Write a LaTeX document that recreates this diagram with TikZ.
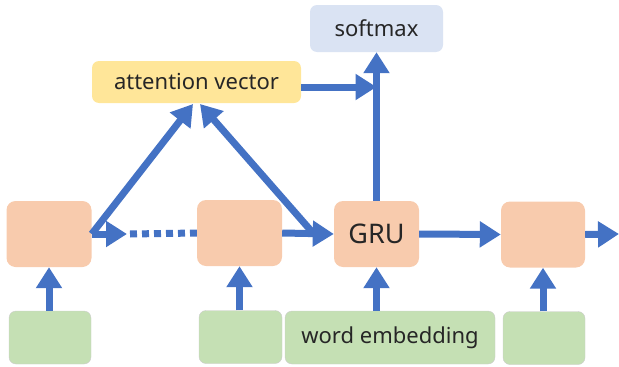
\documentclass[tikz,border=0pt]{standalone}
\usepackage{fontspec}
\setmainfont{Noto Sans}
\usepackage{tikz}
\usetikzlibrary{arrows.meta, positioning, calc}
\usepackage{xcolor}
\definecolor{cellorange}{HTML}{F8CBAD}
\definecolor{embgreen}{HTML}{C5E0B4}
\definecolor{attyellow}{HTML}{FFE699}
\definecolor{softblue}{HTML}{DAE3F3}
\definecolor{arrowblue}{HTML}{4472C4}

\begin{document}
\begin{tikzpicture}[x=1pt, y=-1pt,
    cell/.style={fill=cellorange, rounded corners=9pt, minimum width=85pt, minimum height=66pt, inner sep=0pt},
    emb/.style={fill=embgreen, draw=gray!40, line width=0.4pt, rounded corners=7pt, minimum height=53pt, inner sep=0pt},
    lbl/.style={font=\fontsize{22}{26}\selectfont, text=black!85},
    flow/.style={draw=arrowblue, line width=7pt, -{Triangle[length=21pt, width=25pt]}},
    flowplain/.style={draw=arrowblue, line width=7pt}]
  \useasboundingbox (0,0) rectangle (619,367);

  % recurrent cells
  \node[cell] (h1) at (49,234) {};
  \node[cell] (h2) at (239.5,233) {};
  \node[cell, font=\fontsize{27}{30}\selectfont, text=black!85] (gru) at (376.5,234) {GRU};
  \node[cell, minimum width=84pt] (h4) at (543,234.5) {};

  % embeddings
  \node[emb, minimum width=82pt] (e1) at (50,337.5) {};
  \node[emb, minimum width=83pt] (e2) at (240.5,337) {};
  \node[emb, lbl, minimum width=210pt] (we) at (390,337.5) {word embedding};
  \node[emb, minimum width=82pt] (e4) at (544,338) {};

  % top boxes
  \node[lbl, fill=attyellow, rounded corners=7pt, minimum width=209pt, minimum height=42pt, inner sep=0pt] (att) at (196.5,82) {attention vector};
  \node[lbl, fill=softblue, rounded corners=7pt, minimum width=133pt, minimum height=47pt, inner sep=0pt] (soft) at (376.5,28.5) {softmax};

  \coordinate (dotstart) at (127,234);
  \coordinate (apexL) at (193,104);
  \coordinate (apexR) at (200,104);
  \coordinate (back) at (313,233);
  \coordinate (join) at (376.5,87);
  \coordinate (out) at (619,234);

  % inputs
  \foreach \e/\h in {e1/h1, e2/h2, we/gru, e4/h4}
    \draw[flow] (\e.north -| \h.south) -- (\h.south);

  % time steps
  \draw[flow] (h1.east) -- (dotstart);
  \draw[flowplain, dash pattern=on 7pt off 5pt] (dotstart) ++(3,0) -- (h2.west);
  \draw[flow] (h2.east) -- (gru.west);
  \draw[flow] (gru.east) -- (h4.west);
  \draw[flow] (h4.east) -- (out);

  % attention
  \draw[flow] (h1.east) -- (apexL);
  \draw[flow] (back) -- (apexR);
  \draw[flow] (gru.north) -- (soft.south);
  \draw[flow] (att.east |- join) -- (join);
\end{tikzpicture}
\end{document}
